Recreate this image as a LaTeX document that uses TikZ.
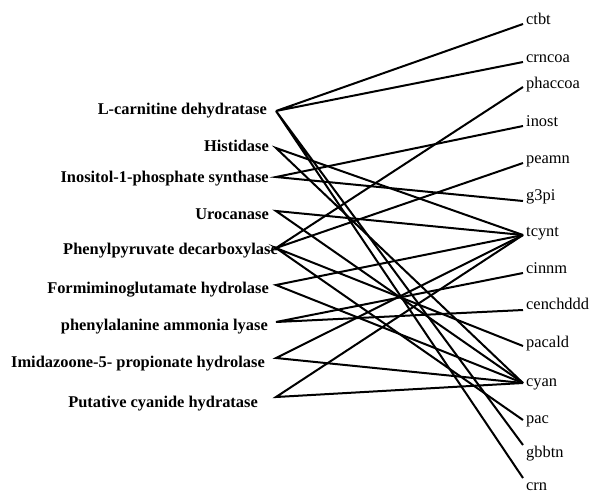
\documentclass[tikz,border=0pt]{standalone}
\usepackage{fontspec}
\setmainfont{Liberation Serif}
\usetikzlibrary{positioning}
\begin{document}
\begin{tikzpicture}[x=1pt,y=-1pt,
  enzyme/.style={font=\fontsize{16.4}{18}\selectfont\bfseries,anchor=base east,inner sep=0pt},
  metab/.style={font=\fontsize{16.4}{18}\selectfont,anchor=base west,inner sep=0pt},
  link/.style={line width=2pt,line join=miter}
]
\useasboundingbox (0,0) rectangle (591,496);
% enzymes (left)
\coordinate (ldh)  at (276,111);
\coordinate (hisd) at (276,148);
\coordinate (inos) at (276,177);
\coordinate (uroc) at (276,211);
\coordinate (ppdc) at (276,248);
\coordinate (fgh)  at (276,285);
\coordinate (pal)  at (276,322);
\coordinate (imzh) at (276,358);
\coordinate (pch)  at (276,397);
\node[enzyme] (tldh)  at (267,114) {L-carnitine dehydratase};
\node[enzyme] (thisd) at (269,151) {Histidase};
\node[enzyme] (tinos) at (269,182) {Inositol-1-phosphate synthase};
\node[enzyme] (turoc) at (269,219) {Urocanase};
\node[enzyme] (tppdc) at (278,254) {Phenylpyruvate decarboxylase};
\node[enzyme] (tfgh)  at (269,293) {Formiminoglutamate hydrolase};
\node[enzyme] (tpal)  at (268,330) {phenylalanine ammonia lyase};
\node[enzyme] (timzh) at (265,367) {Imidazoone-5- propionate hydrolase};
\node[enzyme] (tpch)  at (258,407) {Putative cyanide hydratase};
% metabolites (right)
\coordinate (ctbt)     at (523,24);
\coordinate (crncoa)   at (523,62);
\coordinate (phaccoa)  at (523,87);
\coordinate (inost)    at (523,126);
\coordinate (peamn)    at (523,163);
\coordinate (g3pi)     at (523,201);
\coordinate (tcynt)    at (523,235);
\coordinate (cinnm)    at (523,273);
\coordinate (cenchddd) at (523,310);
\coordinate (pacald)   at (523,346);
\coordinate (cyan)     at (523,383);
\coordinate (pac)      at (523,420);
\coordinate (gbbtn)    at (523,445);
\coordinate (crn)      at (523,478);
\node[metab] (tctbt)     at (526,24)  {ctbt};
\node[metab] (tcrncoa)   at (526,62)  {crncoa};
\node[metab] (tphaccoa)  at (526,88)  {phaccoa};
\node[metab] (tinost)    at (526,126) {inost};
\node[metab] (tpeamn)    at (526,163) {peamn};
\node[metab] (tg3pi)     at (526,200) {g3pi};
\node[metab] (ttcynt)    at (526,236) {tcynt};
\node[metab] (tcinnm)    at (526,273) {cinnm};
\node[metab] (tcenchddd) at (526,309) {cenchddd};
\node[metab] (tpacald)   at (526,347) {pacald};
\node[metab] (tcyan)     at (526,386) {cyan};
\node[metab] (tpac)      at (526,423) {pac};
\node[metab] (tgbbtn)    at (526,457) {gbbtn};
\node[metab] (tcrn)      at (526,490) {crn};
% links
\draw[link] (ctbt) -- (ldh) -- (crncoa);
\draw[link] (gbbtn) -- (ldh) -- (crn);
\draw[link] (tcynt) -- (hisd) -- (cyan);
\draw[link] (inost) -- (inos) -- (g3pi);
\draw[link] (tcynt) -- (uroc) -- (cyan);
\draw[link] (phaccoa) -- (ppdc) -- (peamn);
\draw[link] (pacald) -- (ppdc) -- (pac);
\draw[link] (tcynt) -- (fgh) -- (cyan);
\draw[link] (cinnm) -- (pal) -- (cenchddd);
\draw[link] (tcynt) -- (imzh) -- (cyan);
\draw[link] (tcynt) -- (pch) -- (cyan);
\end{tikzpicture}
\end{document}
